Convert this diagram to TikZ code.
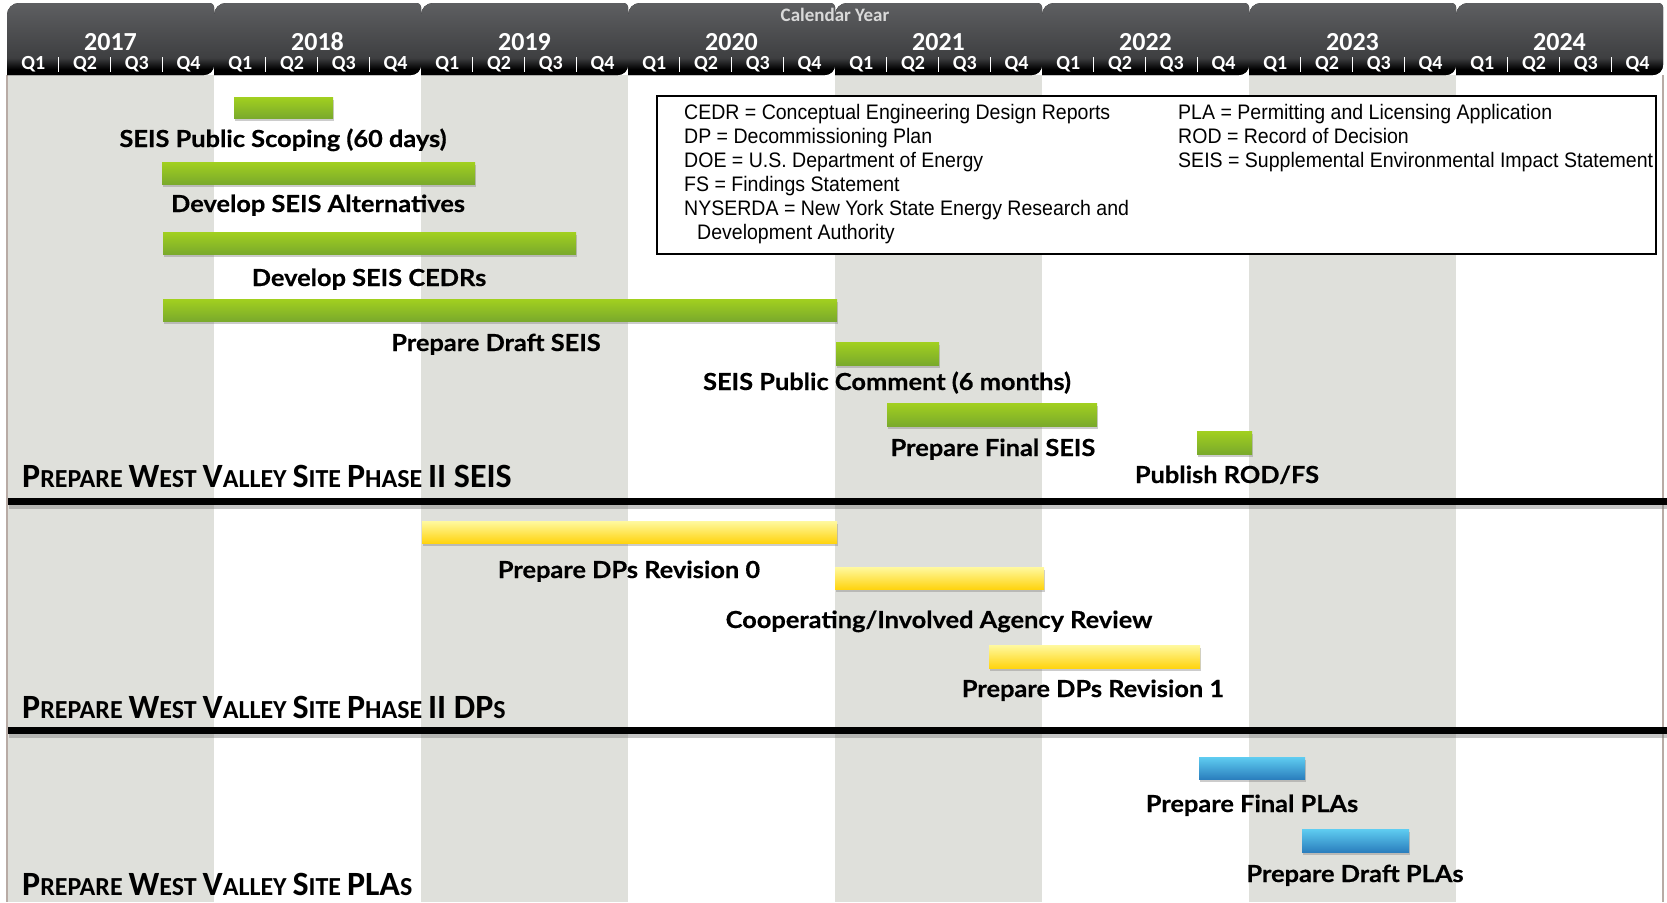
\documentclass[tikz,border=0pt]{standalone}
\usepackage{fontspec}
\setmainfont{Lato}
\newfontfamily\hdrfont{Carlito}
\newfontfamily\taskfont[FakeStretch=1.08, BoldFeatures={FakeBold=0.5}]{Lato}
\newfontfamily\legfont[FakeStretch=0.93]{Liberation Sans}
\usepackage{tikz}
\usetikzlibrary{positioning, shadows}

\definecolor{stripe}{HTML}{DFE0DB}
\definecolor{edgeline}{HTML}{B8ABA5}
\definecolor{hdrtop}{HTML}{737477}
\definecolor{hdrmid}{HTML}{3E3F41}
\definecolor{grntop}{HTML}{A2D01F}
\definecolor{grnbot}{HTML}{7AAA2C}
\definecolor{yeltop}{HTML}{FFF9A0}
\definecolor{yelbot}{HTML}{FFD410}
\definecolor{blutop}{HTML}{5FCDF1}
\definecolor{blubot}{HTML}{2B7FBE}

\pgfdeclareverticalshading{tabshade}{100bp}{color(0bp)=(black); color(29bp)=(black); color(37bp)=(hdrmid); color(100bp)=(hdrtop)}

\newcommand{\bigsc}[1]{{\fontsize{34}{34}\selectfont #1}}

\tikzset{
  taskbar/.style={drop shadow={shadow xshift=1pt, shadow yshift=-3pt, opacity=0.4}},
  greenbar/.style={taskbar, top color=grntop, bottom color=grnbot},
  yellowbar/.style={taskbar, top color=yeltop, bottom color=yelbot},
  bluebar/.style={taskbar, top color=blutop, bottom color=blubot},
  tasklabel/.style={font=\taskfont\bfseries\fontsize{23.5}{23.5}\selectfont, inner sep=0pt, text height=17pt, text depth=5pt, yshift=-3pt},
  phasetitle/.style={anchor=west, font=\hdrfont\bfseries\fontsize{26}{26}\selectfont, inner sep=0pt},
  yearlabel/.style={text=white, font=\hdrfont\bfseries\fontsize{26}{26}\selectfont, inner sep=0pt},
  qlabel/.style={text=white, font=\hdrfont\bfseries\fontsize{20}{20}\selectfont, inner sep=0pt},
  legtext/.style={anchor=west, font=\legfont\fontsize{21}{21}\selectfont, inner sep=0pt, text height=15pt, text depth=4pt, yshift=-2pt},
  divider/.style={fill=black, drop shadow={shadow xshift=1pt, shadow yshift=-4pt, opacity=0.45}}
}

\begin{document}
\begin{tikzpicture}[x=1pt, y=-1pt]
    \useasboundingbox (0,0) rectangle (1667,902);
    % Stripes
    \foreach \i in {0,2,4,6}
        \fill [stripe] (7+207*\i,75) rectangle +(207,827);
    \draw [edgeline, line width=1.5pt] (7,75) -- (7,902);
    \draw [edgeline, line width=1.5pt] (1663,75) -- (1663,902);
    % Header
    \foreach \yr [count=\i from 0] in {2017,...,2024} {
        \pgfmathsetmacro\xa{7+207*\i}
        \pgfmathsetmacro\xb{\xa+207}
        \fill [shading=tabshade] (\xa,75) -- (\xa,15) arc[start angle=180, end angle=270, radius=12]
            -- (\xb-4,3) arc[start angle=270, end angle=360, radius=4]
            -- (\xb,65) arc[start angle=0, end angle=90, radius=10] -- cycle;
        \node [yearlabel] (y\yr) at (\xa+103.5,42) {\yr};
        \foreach \q in {1,...,4}
            \node [qlabel] (q\yr\q) at (\xa+51.75*\q-25.5,64) {Q\q};
        \foreach \q in {1,2,3}
            \draw [white, line width=0.7pt] (\xa+51.75*\q,57) -- (\xa+51.75*\q,72);
    }
    \node [text=white!85!black, font=\hdrfont\bfseries\fontsize{19}{19}\selectfont, inner sep=0pt] (calyear) at (835,15) {Calendar Year};
    % Legend
    \fill [white] (657,96) rectangle (1656,254);
    \draw [line width=1.6pt] (657,96) rectangle (1656,254);
    \foreach \txt [count=\i] in {CEDR = Conceptual Engineering Design Reports, DP = Decommissioning Plan, DOE = U.S. Department of Energy, FS = Findings Statement, NYSERDA = New York State Energy Research and}
        \node [legtext] (leg\i) at (684,88+23.9*\i) {\txt};
    \node [legtext] (leg6) at (697,231.5) {Development Authority};
    \foreach \txt [count=\i] in {PLA = Permitting and Licensing Application, ROD = Record of Decision, SEIS = Supplemental Environmental Impact Statement}
        \node [legtext] (legr\i) at (1178,88+23.9*\i) {\txt};
    % SEIS bars
    \fill [greenbar] (234,97) rectangle (333,118);
    \node [tasklabel] (scoping) at (283,138) {SEIS Public Scoping (60 days)};
    \fill [greenbar] (162,162) rectangle (475,184);
    \node [tasklabel] (alternatives) at (318,203) {Develop SEIS Alternatives};
    \fill [greenbar] (163,232) rectangle (576,254);
    \node [tasklabel] (cedrs) at (369,277) {Develop SEIS CEDRs};
    \fill [greenbar] (163,299) rectangle (837,321);
    \node [tasklabel] (draft) at (496,342) {Prepare Draft SEIS};
    \fill [greenbar] (836,342) rectangle (939,365);
    \node [tasklabel] (comment) at (887,381) {SEIS Public Comment (6 months)};
    \fill [greenbar] (887,403) rectangle (1097,426);
    \node [tasklabel] (final) at (993,447) {Prepare Final SEIS};
    \fill [greenbar] (1197,431) rectangle (1252,454);
    \node [tasklabel] (rod) at (1227,474) {Publish ROD/FS};
    \node [phasetitle] (seis) at (22,476) {\bigsc{P}REPARE \bigsc{W}EST \bigsc{V}ALLEY \bigsc{S}ITE \bigsc{P}HASE \bigsc{II SEIS}};
    \fill [divider] (8,497.5) rectangle (1667,504.5);
    % DP bars
    \fill [yellowbar] (422,521) rectangle (837,543);
    \node [tasklabel] (rev0) at (629,569) {Prepare DPs Revision 0};
    \fill [yellowbar] (835,567) rectangle (1044,589);
    \node [tasklabel] (review) at (939,619) {Cooperating/Involved Agency Review};
    \fill [yellowbar] (989,645) rectangle (1200,668);
    \node [tasklabel] (rev1) at (1093,688) {Prepare DPs Revision 1};
    \node [phasetitle] (dps) at (22,707) {\bigsc{P}REPARE \bigsc{W}EST \bigsc{V}ALLEY \bigsc{S}ITE \bigsc{P}HASE \bigsc{II DP}S};
    \fill [divider] (8,726.5) rectangle (1667,733.5);
    % PLA bars
    \fill [bluebar] (1199,757) rectangle (1305,779);
    \node [tasklabel] (finalpla) at (1252,803) {Prepare Final PLAs};
    \fill [bluebar] (1302,829) rectangle (1409,852);
    \node [tasklabel] (draftpla) at (1355,873) {Prepare Draft PLAs};
    \node [phasetitle] (plas) at (22,884) {\bigsc{P}REPARE \bigsc{W}EST \bigsc{V}ALLEY \bigsc{S}ITE \bigsc{PLA}S};
\end{tikzpicture}
\end{document}
